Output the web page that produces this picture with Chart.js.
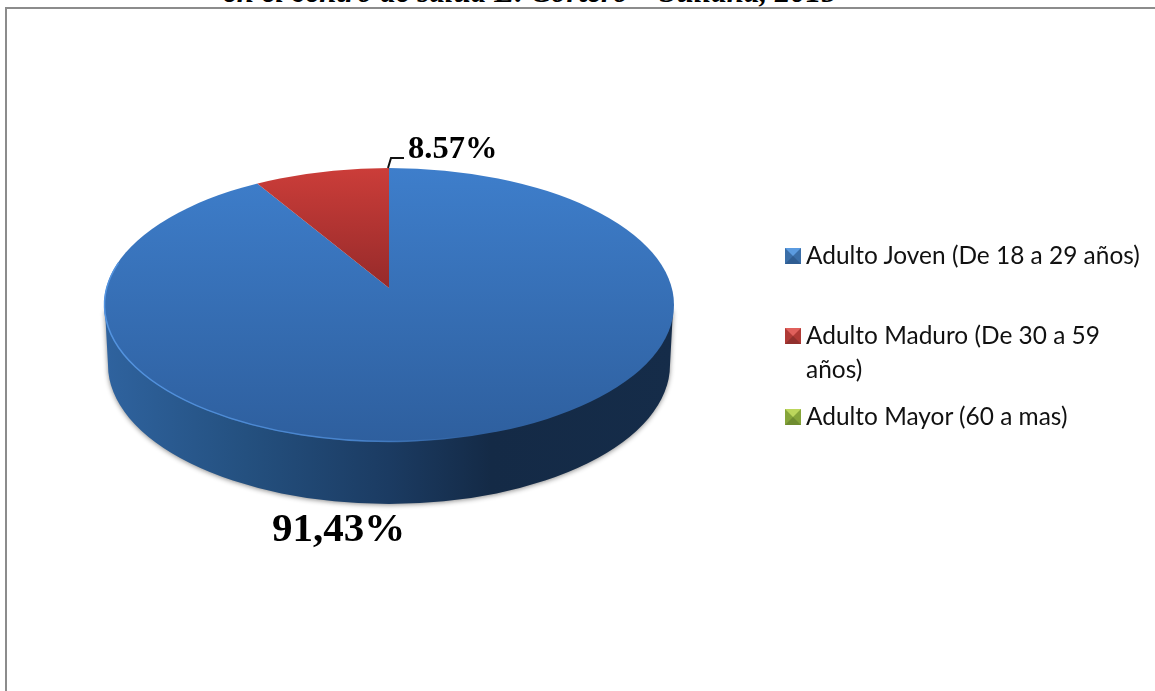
<!DOCTYPE html>
<html>
<head>
<meta charset="utf-8">
<title>Adulto</title>
<script src="https://cdn.jsdelivr.net/npm/chart.js@4/dist/chart.umd.min.js"></script>
<style>
  html, body { margin: 0; padding: 0; background: #fff; overflow: hidden; }
  #wrap { position: relative; width: 1155px; height: 691px; overflow: hidden; }
  #pieChart { position: absolute; left: 0; top: 0; }
  #frame { position: absolute; left: 5px; top: 7px; width: 1160px; height: 700px; border: 2px solid #8c8c8c; }
  #title { position: absolute; left: 0; top: -26px; width: 1060px; text-align: center; font: italic bold 31px "Liberation Serif"; color: #000; white-space: nowrap; }
  .legend-item { position: absolute; left: 806px; width: 340px; font: 24.45px/34px Lato; color: #111; }
  .legend-key { position: absolute; left: -21px; top: 10px; width: 0; height: 0; border-style: solid; border-width: 8px; }
</style>
</head>
<body>
<div id="wrap">
  <div id="frame"></div>
  <div id="title"></div>
  <canvas id="pieChart" width="1155" height="691"></canvas>
  <div id="legend"></div>
</div>
<script>
// Values
const titleText = 'en el centro de salud E. Cortero – Sullana, 2015';
const categories = ['Adulto Joven (De 18 a 29 años)', 'Adulto Maduro (De 30 a 59 años)', 'Adulto Mayor (60 a mas)'];
const values = [91.43, 8.57, 0];
const valueLabels = ['91,43%', '8.57%'];

// top, side, bottom colours of the bevelled legend keys
const keyColors = [
  ['#5b9be0', '#3a6ea8', '#2f5d92'],
  ['#e0605c', '#b03a36', '#91302d'],
  ['#bcd65c', '#86a53a', '#6f8c30']
];
const faceColors = [
  ['#3e7ecb', '#2e5f9e'],
  ['#cb3d39', '#962a2a'],
  ['#86a53a', '#86a53a']
];
const legendRows = [238, 318, 399];

document.getElementById('title').textContent = titleText;

const legendBox = document.getElementById('legend');
categories.forEach(function (name, i) {
  const row = document.createElement('div');
  row.className = 'legend-item';
  row.style.top = legendRows[i] + 'px';
  row.textContent = name;
  const key = document.createElement('span');
  key.className = 'legend-key';
  const c = keyColors[i];
  key.style.borderColor = c[0] + ' ' + c[1] + ' ' + c[2] + ' ' + c[1];
  row.appendChild(key);
  legendBox.appendChild(row);
});

// the flat pie is stretched around its apex and cut to the tilted disc
const apexY = 288;
const scaleX = 1.3;
const scaleY = 0.616;
const discY = 305;
const discHeight = 137;
const wallY = 365;
const wallInset = 4;
const wallHeight = 139;

const tiltedPie = {
  id: 'tiltedPie',
  beforeDatasetDraw(chart, args) {
    const ctx = chart.ctx;
    const arc = args.meta.data[0];
    const cx = arc.x, cy = arc.y, r = arc.outerRadius;

    // side wall of the disc
    const wall = ctx.createLinearGradient(cx - r, 0, cx + r, 0);
    wall.addColorStop(0, '#2f639f');
    wall.addColorStop(0.25, '#24507f');
    wall.addColorStop(0.5, '#1b3b62');
    wall.addColorStop(0.68, '#142a46');
    wall.addColorStop(1, '#152c49');
    ctx.save();
    ctx.shadowColor = 'rgba(0,0,0,0.45)';
    ctx.shadowBlur = 5;
    ctx.shadowOffsetY = 1;
    ctx.fillStyle = wall;
    ctx.beginPath();
    ctx.moveTo(cx - r + 1, discY + 5);
    ctx.lineTo(cx - r + wallInset, wallY);
    ctx.ellipse(cx, wallY, r - wallInset, wallHeight, 0, Math.PI, 0, true);
    ctx.lineTo(cx + r - 1, discY + 5);
    ctx.closePath();
    ctx.fill();
    ctx.restore();

    // top face
    ctx.save();
    ctx.beginPath();
    ctx.ellipse(cx, discY, r, discHeight, 0, 0, Math.PI * 2);
    ctx.clip();
    ctx.translate(cx, apexY);
    ctx.scale(scaleX, scaleY);
    ctx.translate(-cx, -cy);
    args.meta.controller.draw();
    ctx.restore();

    // light rim along the front edge, fades out to the right
    const rim = ctx.createLinearGradient(cx - r, 0, cx + r, 0);
    rim.addColorStop(0, 'rgba(84,148,224,1)');
    rim.addColorStop(0.45, 'rgba(74,134,207,0.9)');
    rim.addColorStop(0.65, 'rgba(74,134,207,0)');
    rim.addColorStop(1, 'rgba(74,134,207,0)');
    ctx.strokeStyle = rim;
    ctx.lineWidth = 1.5;
    ctx.beginPath();
    ctx.ellipse(cx, discY, r - 0.5, discHeight - 0.5, 0, Math.PI * 1.1, 0, true);
    ctx.stroke();

    return false;
  },
  afterDatasetsDraw(chart) {
    const ctx = chart.ctx;
    const arc = chart.getDatasetMeta(0).data[0];
    const cx = arc.x;
    const top = discY - discHeight;
    // leader line of the small slice
    ctx.save();
    ctx.strokeStyle = '#111';
    ctx.lineWidth = 2;
    ctx.beginPath();
    ctx.moveTo(cx - 1, top);
    ctx.lineTo(cx + 2, top - 10);
    ctx.lineTo(cx + 15, top - 10);
    ctx.stroke();
    ctx.fillStyle = '#000';
    ctx.textBaseline = 'alphabetic';
    ctx.font = 'bold 41px "Liberation Serif"';
    ctx.fillText(valueLabels[0], cx - 117, 541);
    ctx.font = 'bold 32.5px "Liberation Serif"';
    ctx.fillText(valueLabels[1], cx + 19, 158);
    ctx.restore();
  }
};

// gradient stops sit where the disc top, apex and front edge land after scaling
function faceGradient(context) {
  const stops = faceColors[context.dataIndex];
  const chart = context.chart;
  const area = chart.chartArea;
  if (!area) return stops[0];
  const g = chart.ctx.createLinearGradient(0, area.top, 0, area.bottom);
  g.addColorStop(0.16, stops[0]);
  g.addColorStop(context.dataIndex === 1 ? 0.5 : 0.94, stops[1]);
  return g;
}

const pieChart = new Chart(document.getElementById('pieChart').getContext('2d'), {
  type: 'pie',
  data: {
    labels: categories,
    datasets: [{
      data: values,
      borderWidth: 0,
      backgroundColor: faceGradient
    }]
  },
  options: {
    responsive: false,
    animation: false,
    radius: 285,
    rotation: 0,
    layout: { padding: { left: 104, right: 481, top: 60, bottom: 61 } },
    plugins: { legend: { display: false }, tooltip: { enabled: false } }
  },
  plugins: [tiltedPie]
});
</script>
</body>
</html>
